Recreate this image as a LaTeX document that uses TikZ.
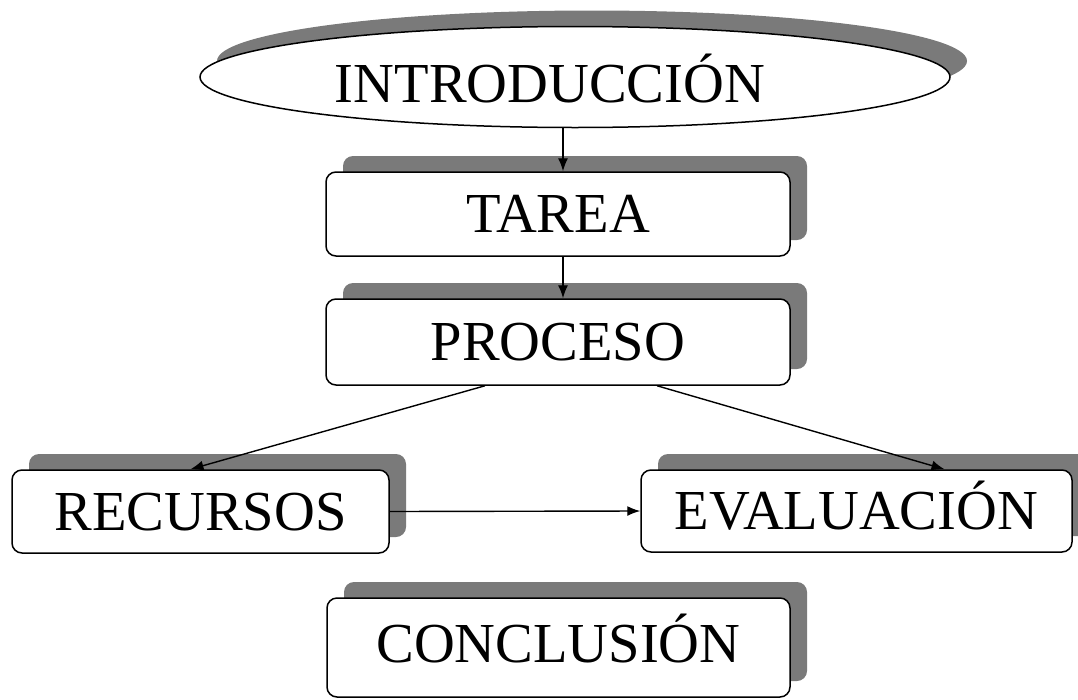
\documentclass[tikz,border=0pt]{standalone}
\usepackage{fontspec}
\setmainfont{Liberation Serif}
\usetikzlibrary{shapes.geometric,shadows,arrows.meta}
\definecolor{shadowgray}{RGB}{122,122,122}
\begin{document}
\begin{tikzpicture}[x=1pt,y=-1pt,
  lbl/.style={font=\fontsize{56.5}{60}\selectfont, text height=37.5pt, text depth=0pt, inner sep=0pt},
  dshadow/.style={drop shadow={shadow xshift=17pt,shadow yshift=16pt,fill=shadowgray,opacity=1}},
  box/.style={lbl, draw=black, line width=1.5pt, fill=white, rounded corners=10pt, dshadow},
  oval/.style={ellipse, draw=black, line width=1.5pt, fill=white, inner sep=0pt, dshadow},
  arr/.style={line width=1.4pt, -{Latex[length=13pt,width=10pt]}}
]
\useasboundingbox (0,0) rectangle (1078,699);

\node[oval, minimum width=750pt, minimum height=101pt] (intro) at (575,77) {};
\node[lbl] (introtxt) at (550,83.5) {INTRODUCCIÓN};

\node[box, minimum width=464pt, minimum height=84pt] (tarea) at (558,214) {TAREA};
\node[box, minimum width=464pt, minimum height=86pt] (proceso) at (558,342) {PROCESO};
\node[box, minimum width=377pt, minimum height=83pt] (recursos) at (200.5,511.5) {RECURSOS};
\node[box, minimum width=431pt, minimum height=82pt] (evaluacion) at (856.5,511) {EVALUACIÓN};
\node[box, minimum width=463pt, minimum height=99pt, text depth=8pt] (conclusion) at (558.5,647.5) {CONCLUSIÓN};

\draw[arr] ([xshift=5pt]tarea.north |- intro.south) -- ([xshift=5pt]tarea.north);
\draw[arr] ([xshift=5pt]tarea.south) -- ([xshift=5pt]proceso.north);
\draw[arr] ([xshift=-73pt]proceso.south) -- ([xshift=-10pt]recursos.north);
\draw[arr] ([xshift=99pt]proceso.south) -- ([xshift=88pt]evaluacion.north);
\draw[arr] (recursos.east) -- (evaluacion.west);
\end{tikzpicture}
\end{document}
